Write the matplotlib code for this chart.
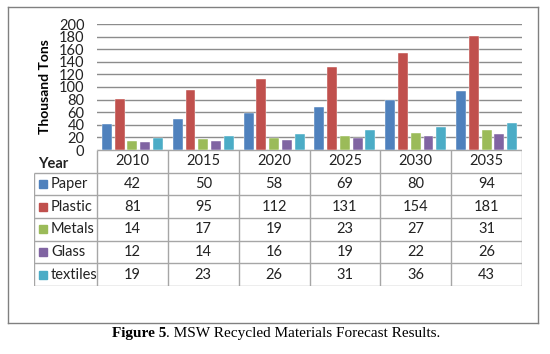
import matplotlib.pyplot as plt
import numpy as np

years = ['2010', '2015', '2020', '2025', '2030', '2035']
materials = ['Paper', 'Plastic', 'Metals', 'Glass', 'textiles']
paper = [42, 50, 58, 69, 80, 94]
plastic = [81, 95, 112, 131, 154, 181]
metals = [14, 17, 19, 23, 27, 31]
glass = [12, 14, 16, 19, 22, 26]
textiles = [19, 23, 26, 31, 36, 43]
colors = ['#4F81BD', '#C0504D', '#9BBB59', '#8064A2', '#4BACC6']

series = [paper, plastic, metals, glass, textiles]

W, H = 550, 354
font = 'Lato'
grid_c = '#8c8c8c'
tab_c = '#a6a6a6'

fig = plt.figure(figsize=(W / 100, H / 100), dpi=100)

def rect(x0, y0, x1, y1):
    return [x0 / W, 1 - y1 / H, (x1 - x0) / W, (y1 - y0) / H]

# outer frame
frame = fig.add_axes(rect(8, 7, 538, 323))
frame.set_xticks([])
frame.set_yticks([])
for s in frame.spines.values():
    s.set_color('#808080')
    s.set_linewidth(1.0)
frame.patch.set_alpha(0)

# bar chart
ax = fig.add_axes(rect(97, 24, 522, 150))
x = np.arange(len(years))
step = 0.18
bw = 0.14
for i, (vals, c) in enumerate(zip(series, colors)):
    ax.bar(x + (i - 2) * step, vals, width=bw, color=c, edgecolor='white',
           linewidth=0.3, zorder=3)
ax.set_xlim(-0.5, len(years) - 0.5)
ax.set_ylim(0, 200)
ax.set_yticks(range(0, 201, 20))
ax.set_xticks([])
ax.yaxis.grid(True, color=grid_c, linewidth=1.0, zorder=0)
ax.tick_params(axis='y', length=0, pad=9, labelsize=10.5, labelcolor='#222222')
for lab in ax.get_yticklabels():
    lab.set_fontfamily(font)
for s in ax.spines.values():
    s.set_visible(False)
ax.set_ylabel('Thousand Tons', fontsize=10, fontweight='bold', family=font,
              labelpad=6)
ax.patch.set_alpha(0)

# data table
lab_w = 63 / (425 / 6)
tx = fig.add_axes(rect(34, 150, 522, 286))
left = -0.5 - lab_w
right = len(years) - 0.5
nrow = len(materials)
tx.set_xlim(left, right)
tx.set_ylim(nrow + 1, 0)
tx.axis('off')
lkw = dict(color=tab_c, linewidth=1.0, solid_capstyle='butt')
tx.plot([-0.5, right], [0, 0], **lkw)
for r in range(1, nrow + 2):
    tx.plot([left, right], [r, r], **lkw)
for k in range(len(years) + 1):
    tx.plot([k - 0.5, k - 0.5], [0, nrow + 1], **lkw)
tx.plot([left, left], [1, nrow + 1], **lkw)

tkw = dict(fontsize=10.5, family=font, va='center', color='#222222')
tx.text(left + 0.06, 0.6, 'Year', fontweight='bold', ha='left', **tkw)
for j, y in enumerate(years):
    tx.text(j, 0.5, y, ha='center', **tkw)
for r, (name, vals, c) in enumerate(zip(materials, series, colors)):
    yy = r + 1.5
    tx.plot([left + 0.13], [yy], marker='s', markersize=5.5, color=c,
            linestyle='none')
    tx.text(left + 0.24, yy, name, ha='left', **tkw)
    for j, v in enumerate(vals):
        tx.text(j, yy, str(v), ha='center', **tkw)

# caption
fig.text(166 / W, 1 - 333 / H, 'Figure 5', ha='right', va='center',
         fontsize=11, fontweight='bold', family='Liberation Serif')
fig.text(166 / W, 1 - 333 / H, '. MSW Recycled Materials Forecast Results.',
         ha='left', va='center', fontsize=11, family='Liberation Serif')

fig.savefig('out.png', dpi=100)
